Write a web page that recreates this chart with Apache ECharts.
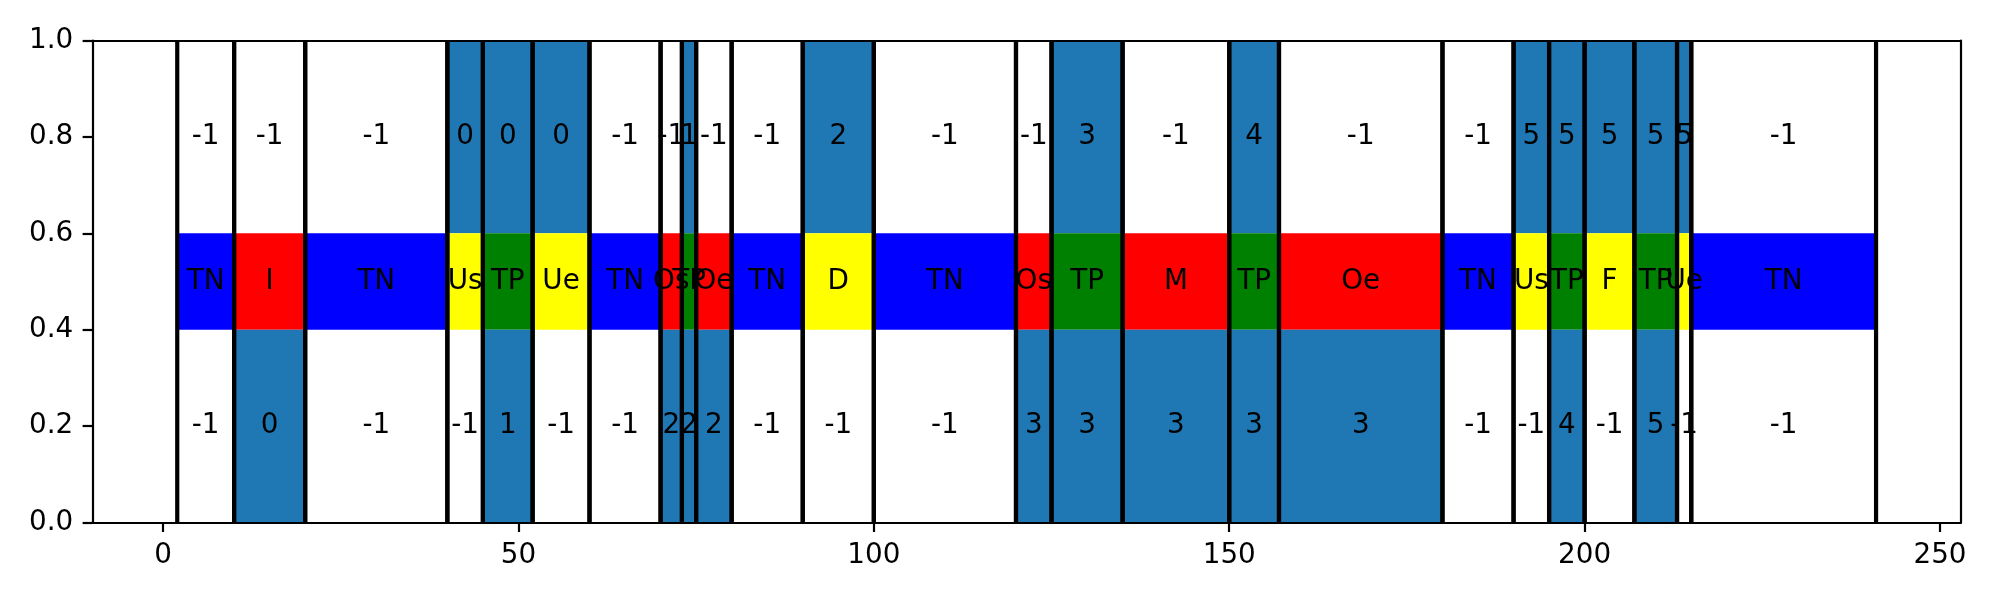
<!DOCTYPE html>
<html><head><meta charset="utf-8">
<script src="https://cdn.jsdelivr.net/npm/echarts@6/dist/echarts.min.js"></script>
<style>html,body{margin:0;padding:0;background:#fff}#c{width:2000px;height:600px}</style>
</head><body><div id="c"></div>
<script>
// ---- data ----
const starts = [2, 10, 20, 40, 45, 52, 60, 70, 73, 75, 80, 90, 100, 120, 125, 135, 150, 157, 180, 190, 195, 200, 207, 213, 215];
const ends   = [10, 20, 40, 45, 52, 60, 70, 73, 75, 80, 90, 100, 120, 125, 135, 150, 157, 180, 190, 195, 200, 207, 213, 215, 241];
const labels = ['TN','I','TN','Us','TP','Ue','TN','Os','TP','Oe','TN','D','TN','Os','TP','M','TP','Oe','TN','Us','TP','F','TP','Ue','TN'];
const topVals    = [-1, -1, -1, 0, 0, 0, -1, -1, 1, -1, -1, 2, -1, -1, 3, -1, 4, -1, -1, 5, 5, 5, 5, 5, -1];
const bottomVals = [-1, 0, -1, -1, 1, -1, -1, 2, 2, 2, -1, -1, -1, 3, 3, 3, 3, 3, -1, -1, 4, -1, 5, -1, -1];
const xTicks = [0, 50, 100, 150, 200, 250];
const yTicks = [0, 0.2, 0.4, 0.6, 0.8, 1.0];

// ---- styling ----
const colorOf = {TN:'#0000ff', I:'#ff0000', Os:'#ff0000', Oe:'#ff0000', M:'#ff0000',
                 Us:'#ffff00', Ue:'#ffff00', D:'#ffff00', F:'#ffff00', TP:'#008000'};
const ACTIVE = '#1f77b4';
const FONT = 27.8;
const FAMILY = '"DejaVu Sans", sans-serif';

const data = starts.map((s, i) => [s, ends[i], i]);

function rect(api, x0, x1, y0, y1, color) {
  const p0 = api.coord([x0, y1]);
  const p1 = api.coord([x1, y0]);
  return {type: 'rect', shape: {x: p0[0], y: p0[1], width: p1[0] - p0[0], height: p1[1] - p0[1]},
          style: {fill: color}};
}
function txt(api, x, y, s) {
  const p = api.coord([x, y]);
  return {type: 'text', x: p[0], y: p[1],
          style: {text: String(s), align: 'center', verticalAlign: 'middle',
                  textAlign: 'center', textVerticalAlign: 'middle',
                  fontSize: FONT, fontFamily: FAMILY, fill: '#000'}};
}

const chart = echarts.init(document.getElementById('c'), null, {renderer: 'canvas'});
const axisLbl = {color: '#000', fontSize: FONT, fontFamily: FAMILY, margin: 19};
chart.setOption({
  animation: false,
  backgroundColor: '#fff',
  grid: {left: 92.3, right: 39, top: 40.7, bottom: 77.7, containLabel: false},
  xAxis: [{
    type: 'value', min: -9.95, max: 252.95, position: 'bottom', z: 10,
    splitLine: {show: false},
    axisLine: {show: true, onZero: false, lineStyle: {color: '#000', width: 2.2}},
    axisTick: {show: true, length: 9.7, lineStyle: {color: '#000', width: 2.2}, customValues: xTicks},
    axisLabel: Object.assign({customValues: xTicks, formatter: v => String(v)}, axisLbl)
  }, {
    type: 'value', min: -9.95, max: 252.95, position: 'top', z: 10,
    splitLine: {show: false},
    axisLine: {show: true, onZero: false, lineStyle: {color: '#000', width: 2.2}},
    axisTick: {show: false}, axisLabel: {show: false}
  }],
  yAxis: [{
    type: 'value', min: 0, max: 1, interval: 0.2, position: 'left', z: 10,
    splitLine: {show: false},
    axisLine: {show: true, onZero: false, lineStyle: {color: '#000', width: 2.2}},
    axisTick: {show: true, length: 9.7, lineStyle: {color: '#000', width: 2.2}},
    axisLabel: Object.assign({formatter: v => v.toFixed(1)}, axisLbl)
  }, {
    type: 'value', min: 0, max: 1, position: 'right', z: 10,
    splitLine: {show: false},
    axisLine: {show: true, onZero: false, lineStyle: {color: '#000', width: 2.2}},
    axisTick: {show: false}, axisLabel: {show: false}
  }],
  series: [{
    type: 'custom', z: 1, data: data, xAxisIndex: 0, yAxisIndex: 0,
    encode: {x: [0, 1]},
    renderItem: function (params, api) {
      const i = api.value(2), s = api.value(0), e = api.value(1);
      const ch = [];
      if (topVals[i] !== -1) ch.push(rect(api, s, e, 0.6, 1.0, ACTIVE));
      ch.push(rect(api, s, e, 0.4, 0.6, colorOf[labels[i]]));
      if (bottomVals[i] !== -1) ch.push(rect(api, s, e, 0.0, 0.4, ACTIVE));
      return {type: 'group', children: ch};
    }
  }, {
    type: 'custom', z: 2, data: data, xAxisIndex: 0, yAxisIndex: 0,
    encode: {x: [0, 1]},
    renderItem: function (params, api) {
      const s = api.value(0), e = api.value(1);
      const ch = [];
      [s, e].forEach(x => {
        const a = api.coord([x, 0]), b = api.coord([x, 1]);
        ch.push({type: 'line', shape: {x1: a[0], y1: a[1], x2: b[0], y2: b[1]},
                 style: {stroke: '#000', lineWidth: 4.2}});
      });
      return {type: 'group', children: ch};
    }
  }, {
    type: 'custom', z: 3, data: data, xAxisIndex: 0, yAxisIndex: 0,
    encode: {x: [0, 1]},
    renderItem: function (params, api) {
      const i = api.value(2), s = api.value(0), e = api.value(1);
      const c = (s + e) / 2;
      return {type: 'group', children: [
        txt(api, c, 0.8, topVals[i]),
        txt(api, c, 0.5, labels[i]),
        txt(api, c, 0.2, bottomVals[i])
      ]};
    }
  }]
});
</script>
</body></html>
